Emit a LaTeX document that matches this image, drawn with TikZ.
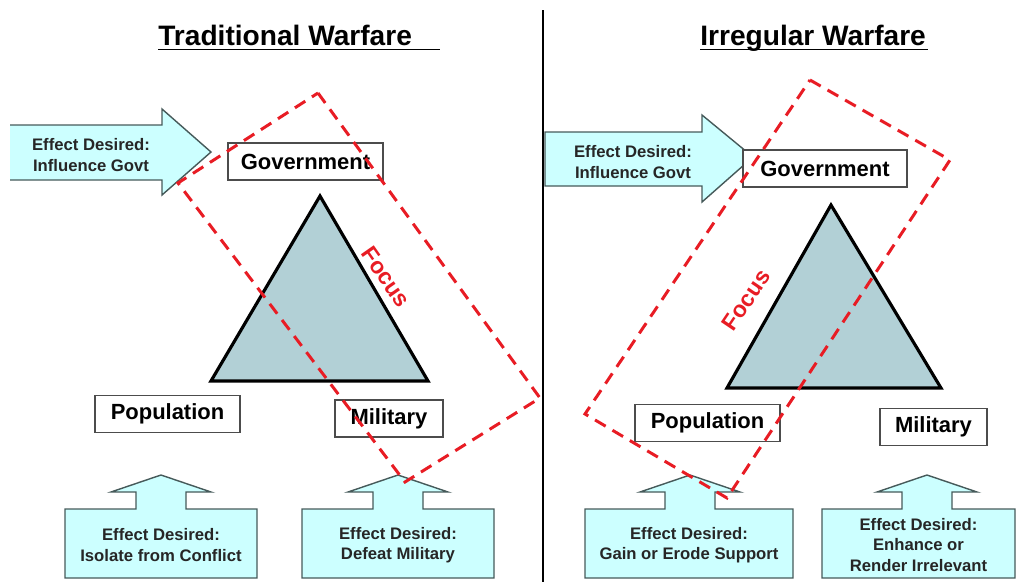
\documentclass[tikz,border=0pt]{standalone}
\usepackage{fontspec}
\setmainfont{Liberation Sans}
\usetikzlibrary{positioning}

\definecolor{effectfill}{RGB}{204,255,255}
\definecolor{effectline}{RGB}{70,90,90}
\definecolor{trifill}{RGB}{178,208,214}
\definecolor{focusred}{RGB}{232,28,36}

\begin{document}
\begin{tikzpicture}
  [x=0.02cm, y=-0.02cm,
  effect/.style={draw=effectline, fill=effectfill, line width=0.8pt, line join=miter},
  effect text/.style={font=\bfseries\fontsize{9.5}{11.5}\selectfont, text=black!85, align=center},
  actor/.style={draw=black!70, line width=0.6pt, fill=white, minimum height=0.74cm,
    font=\bfseries\fontsize{12.5}{14}\selectfont},
  triangle/.style={draw=black, fill=trifill, line width=1.8pt, line join=miter},
  focus box/.style={draw=focusred, line width=1.7pt, dash pattern=on 7pt off 4.5pt},
  focus/.style={text=focusred, font=\bfseries\fontsize{13}{15}\selectfont},
  title/.style={font=\bfseries\fontsize{16}{19}\selectfont, anchor=base west, inner sep=0pt},
  ]
  \useasboundingbox (0,0) rectangle (1019,582);

  % divider and headings
  \draw[line width=1.7pt] (543,10) coordinate (divtop) -- (543,582) coordinate (divbot);
  \node[title] (tradtitle) at (158,45) {Traditional Warfare};
  \draw[line width=1pt] ([yshift=-2.5pt]tradtitle.base west) -- +(282,0);
  \node[title] (irrtitle) at (700,45) {Irregular Warfare};
  \draw[line width=1pt] ([yshift=-2.5pt]irrtitle.base west) -- +(228,0);

  % side arrows towards the government
  \fill[effectfill] (10,125) -- (162,125) -- (162,109) -- (211,152)
    -- (162,195) -- (162,180) -- (10,180) -- cycle;
  \draw[effect, fill=none] (10,125) -- (162,125) -- (162,109) -- (211,152)
    -- (162,195) -- (162,180) -- (10,180);
  \node[effect text] (tradgovtfx) at (91,155) {Effect Desired:\\Influence Govt};

  \draw[effect] (545,132) -- (702,132) -- (702,115) -- (753,157)
    -- (702,202) -- (702,186) -- (545,186) -- cycle;
  \node[effect text] (irrgovtfx) at (633,162) {Effect Desired:\\Influence Govt};

  % upward arrows under population and military
  \foreach \l/\r/\c/\n/\t in {65/257/161/tradpopfx/{Isolate from Conflict},
      302/494/398/tradmilfx/{Defeat Military},
      585/793/690/irrpopfx/{Gain or Erode Support},
      822/1015/927/irrmilfx/{Enhance or\\Render Irrelevant}}{
    \draw[effect] (\l,578) -- (\l,509) -- (\c-25,509) -- (\c-25,492) -- (\c-50,492)
      -- (\c,475) -- (\c+50,492) -- (\c+25,492) -- (\c+25,509) -- (\r,509)
      -- (\r,578) -- cycle;
    \node[effect text] (\n) at ({(\l+\r)/2},545) {Effect Desired:\\\t};
  }

  % the triangles
  \draw[triangle] (320,196) coordinate (tradtop) -- (428,381) coordinate (tradright)
    -- (211,381) coordinate (tradleft) -- cycle;
  \draw[triangle] (831,205) coordinate (irrtop) -- (941,388) coordinate (irrright)
    -- (727,388) coordinate (irrleft) -- cycle;

  \node[actor, minimum width=3.1cm] (tradgov) at (305.5,161.5) {Government};
  \node[actor, minimum width=2.9cm] (tradpop) at (167.5,414) {Population};
  \node[actor, minimum width=2.16cm] (tradmil) at (389,418.5) {Military};
  \node[actor, minimum width=3.28cm] (irrgov) at (825,168.5) {Government};
  \node[actor, minimum width=2.9cm] (irrpop) at (707.5,423) {Population};
  \node[actor, minimum width=2.14cm] (irrmil) at (933.5,427) {Military};

  % focus regions
  \draw[focus box] (318,93) -- (540,398) -- (405,482) -- (178,183) -- cycle;
  \node[focus, rotate=-55] (tradfocus) at (386,277) {Focus};
  \draw[focus box] (810,80) -- (950,160) -- (727,498) -- (585,414) -- cycle;
  \node[focus, rotate=56] (irrfocus) at (746,300) {Focus};
\end{tikzpicture}
\end{document}
